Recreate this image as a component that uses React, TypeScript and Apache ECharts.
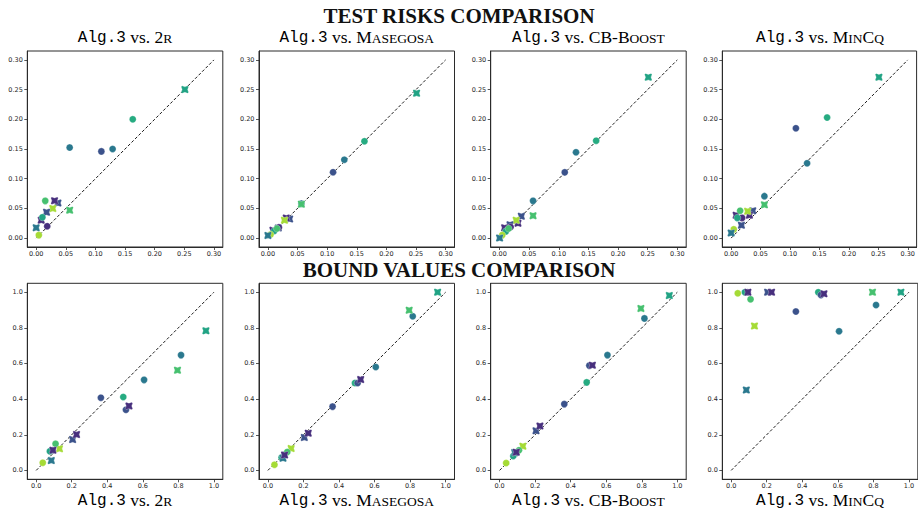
import React, { useEffect, useRef } from 'react';
import * as echarts from 'echarts';

// ---------- data ----------
const COMPARISON_TITLES = [
  '{s|2}{k|R}',
  '{s|M}{k|ASEGOSA}',
  '{s|CB-B}{k|OOST}',
  '{s|M}{k|IN}{s|C}{k|Q}',
];
const ROW_TITLES = ['TEST RISKS COMPARISON', 'BOUND VALUES COMPARISON'];

const TOP_TICKS = [0, 0.05, 0.1, 0.15, 0.2, 0.25, 0.3];
const BOTTOM_TICKS = [0, 0.2, 0.4, 0.6, 0.8, 1.0];

const PURPLE = '#472f7d';
const BLUE = '#3b528b';
const TEAL = '#2a788e';
const TEAL_GREEN = '#21a384';
const TEAL_GREEN2 = '#26ab81';
const GREEN = '#46c06f';
const YELLOW_GREEN = '#a5db36';

// Alg.3 test risks (x) and competitor test risks (y)
const TOP_X = [0.251, 0.163, 0.129, 0.110, 0.0565, 0.0565, 0.0367, 0.031, 0.028, 0.0175, 0.0186, 0.0085, 0.0105, 0.0153, 0.0045, 0.0];
const TOP_Y_2R = [0.250, 0.200, 0.150, 0.146, 0.1525, 0.047, 0.059, 0.063, 0.050, 0.0435, 0.020, 0.030, 0.035, 0.0627, 0.005, 0.0175];
const TOP_Y_MASEGOSA = [0.244, 0.163, 0.132, 0.111, 0.058, 0.057, 0.032, 0.034, 0.030, 0.017, 0.018, 0.013, 0.012, 0.016, 0.006, 0.0045];
const TOP_Y_CBBOOST = [0.271, 0.164, 0.1445, 0.1107, 0.0627, 0.0378, 0.0366, 0.0248, 0.030, 0.0226, 0.0186, 0.0175, 0.0113, 0.016, 0.005, 0.0];
const TOP_Y_MINCQ = [0.271, 0.203, 0.126, 0.185, 0.0706, 0.056, 0.046, 0.0385, 0.045, 0.0215, 0.034, 0.0385, 0.034, 0.046, 0.0147, 0.0085];
const TOP_MARKERS = ['x', 'o', 'o', 'o', 'o', 'x', 'x', 'x', 'x', 'x', 'o', 'x', 'o', 'o', 'o', 'x'];
const TOP_COLORS = [TEAL_GREEN, TEAL_GREEN2, TEAL, BLUE, TEAL, GREEN, BLUE, PURPLE, YELLOW_GREEN, BLUE, PURPLE, PURPLE, TEAL_GREEN, GREEN, YELLOW_GREEN, TEAL];

// Alg.3 bound values (x) and competitor bound values (y)
const BOTTOM_X = [0.955, 0.490, 0.815, 0.364, 0.607, 0.795, 0.505, 0.522, 0.131, 0.205, 0.093, 0.227, 0.077, 0.109, 0.037, 0.085, 0.094];
const BOTTOM_Y_2R = [0.783, 0.412, 0.647, 0.408, 0.508, 0.562, 0.340, 0.362, 0.122, 0.173, 0.113, 0.201, 0.107, 0.149, 0.043, 0.055, 0.113];
const BOTTOM_Y_MASEGOSA = [1.0, 0.49, 0.865, 0.358, 0.58, 0.899, 0.49, 0.51, 0.123, 0.185, 0.088, 0.209, 0.072, 0.103, 0.032, 0.068, 0.086];
const BOTTOM_Y_CBBOOST = [0.981, 0.494, 0.853, 0.372, 0.647, 0.909, 0.588, 0.59, 0.136, 0.222, 0.098, 0.249, 0.081, 0.113, 0.041, 0.10, 0.102];
const BOTTOM_Y_MINCQ = [1.0, 1.0, 0.928, 0.892, 0.781, 1.0, 0.985, 0.991, 0.81, 1.0, 1.0, 1.0, 1.0, 0.96, 0.994, 0.451, 1.0];
const BOTTOM_MARKERS = ['x', 'o', 'o', 'o', 'o', 'x', 'o', 'x', 'x', 'x', 'o', 'x', 'o', 'o', 'o', 'x', 'x'];
const BOTTOM_COLORS = [TEAL_GREEN, TEAL_GREEN2, TEAL, BLUE, TEAL, GREEN, BLUE, PURPLE, YELLOW_GREEN, BLUE, PURPLE, PURPLE, TEAL_GREEN, GREEN, YELLOW_GREEN, TEAL, PURPLE];

const TOP_DIAG = [[0, 0], [0.3, 0.3]];
const BOTTOM_DIAG = [[0, 0], [1, 1]];

// ---------- layout ----------
const PANEL_LEFTS = [27.3, 259, 490.7, 722.3];
const PANEL_W = 195.5;
const PANEL_H = 196;
const ROW_TOPS = [51, 283.3];

const X_MARK = 'path://M0,0.8L0.8,0L3,0.8L5.2,0L6,0.8L5.2,3L6,5.2L5.2,6L3,5.2L0.8,6L0,5.2L0.8,3Z';

export default function App() {
  const ref = useRef<HTMLDivElement>(null);
  useEffect(() => {
    if (!ref.current) return;
    const chart = echarts.init(ref.current, undefined, { renderer: 'svg' });

    const rows = [
      { x: TOP_X, ys: [TOP_Y_2R, TOP_Y_MASEGOSA, TOP_Y_CBBOOST, TOP_Y_MINCQ], markers: TOP_MARKERS, colors: TOP_COLORS, ticks: TOP_TICKS, min: -0.015, max: 0.315, diag: TOP_DIAG, dec: 2 },
      { x: BOTTOM_X, ys: [BOTTOM_Y_2R, BOTTOM_Y_MASEGOSA, BOTTOM_Y_CBBOOST, BOTTOM_Y_MINCQ], markers: BOTTOM_MARKERS, colors: BOTTOM_COLORS, ticks: BOTTOM_TICKS, min: -0.05, max: 1.05, diag: BOTTOM_DIAG, dec: 1 },
    ];

    const grids: any[] = [];
    const xAxes: any[] = [];
    const yAxes: any[] = [];
    const series: any[] = [];
    const axisColor = '#2b2b2b';

    rows.forEach((row, r) => {
      row.ys.forEach((ys, c) => {
        const gi = grids.length;
        grids.push({
          left: PANEL_LEFTS[c], top: ROW_TOPS[r], width: PANEL_W, height: PANEL_H,
          show: true, borderColor: axisColor, borderWidth: 1, backgroundColor: '#fff',
          containLabel: false,
        });
        const mkAxis = (isX: boolean) => ({
          gridIndex: gi, type: 'value', min: row.min, max: row.max,
          axisLine: { show: true, onZero: false, lineStyle: { color: axisColor, width: 1 } },
          axisTick: { show: true, inside: false, length: 3, customValues: row.ticks, lineStyle: { color: axisColor, width: 0.8 } },
          axisLabel: {
            customValues: row.ticks, fontSize: 6.5, color: '#262626', fontFamily: 'DejaVu Sans',
            margin: isX ? 3.5 : 4.5,
            formatter: (v: number) => v.toFixed(row.dec),
          },
          splitLine: { show: false },
        });
        xAxes.push(mkAxis(true));
        yAxes.push(mkAxis(false));
        series.push({
          type: 'line', xAxisIndex: gi, yAxisIndex: gi, data: row.diag, symbol: 'none', silent: true, z: 1,
          lineStyle: { color: '#000', width: 0.9, type: [3, 2] },
        });
        series.push({
          type: 'scatter', xAxisIndex: gi, yAxisIndex: gi, z: 2, silent: true,
          data: row.x.map((xv, i) => ({
            value: [xv, ys[i]],
            symbol: row.markers[i] === 'x' ? X_MARK : 'circle',
            symbolSize: row.markers[i] === 'x' ? 7.5 : 7,
            itemStyle: { color: row.colors[i], borderColor: 'rgba(255,255,255,0.7)', borderWidth: 0.4, opacity: 1 },
          })),
        });
      });
    });

    const rich = {
      m: { fontFamily: 'Liberation Mono', fontSize: 16, color: '#111', verticalAlign: 'bottom' },
      s: { fontFamily: 'Liberation Serif', fontSize: 17.5, color: '#111', verticalAlign: 'bottom' },
      k: { fontFamily: 'Liberation Serif', fontSize: 13.5, color: '#111', verticalAlign: 'bottom', padding: [0, 0, 1, 0] },
    };

    const graphics: any[] = [];
    [37, 500].forEach((ty) => {
      COMPARISON_TITLES.forEach((t, c) => {
        graphics.push({
          type: 'text', x: PANEL_LEFTS[c] + PANEL_W / 2, y: ty,
          style: { text: '{m|Alg.3}{s| vs. }' + t, rich, align: 'center', verticalAlign: 'middle' },
        });
      });
    });
    [15.5, 270].forEach((ty, r) => {
      graphics.push({
        type: 'text', x: 459, y: ty,
        style: { text: ROW_TITLES[r], fontFamily: 'Liberation Serif', fontWeight: 'bold', fontSize: 21, fill: '#111', align: 'center', verticalAlign: 'middle' },
      });
    });

    chart.setOption({
      animation: false,
      backgroundColor: '#fff',
      grid: grids,
      xAxis: xAxes,
      yAxis: yAxes,
      series,
      graphic: graphics,
    });
    return () => chart.dispose();
  }, []);
  return <div ref={ref} style={{ position: 'absolute', left: 0, top: 0, width: 918, height: 510 }} />;
}
